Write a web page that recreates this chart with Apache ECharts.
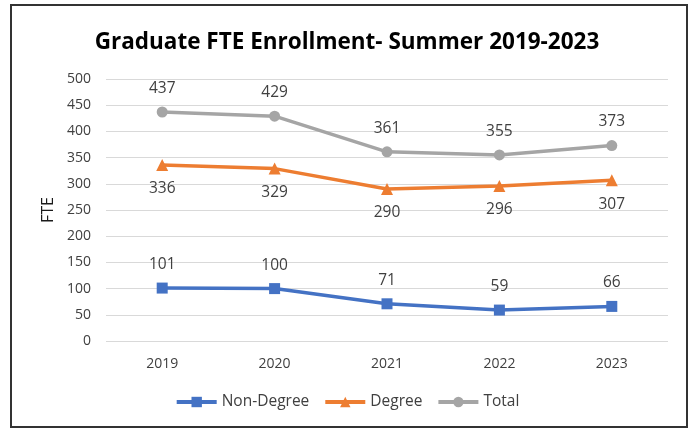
<!DOCTYPE html>
<html><head><meta charset="utf-8">
<script src="https://cdn.jsdelivr.net/npm/echarts@6/dist/echarts.min.js"></script>
<style>html,body{margin:0;padding:0;background:#fff}#c{width:694px;height:432px}
#frame{position:absolute;left:10px;top:4px;width:678px;height:424px;border:2px solid #333;box-sizing:border-box;pointer-events:none}</style>
</head><body><div id="c"></div><div id="frame"></div>
<script>
const categories = ['2019','2020','2021','2022','2023'];
const nonDegree = [101,100,71,59,66];
const degree = [336,329,290,296,307];
const total = [437,429,361,355,373];
const yTicks = [0,50,100,150,200,250,300,350,400,450,500];

const chart = echarts.init(document.getElementById('c'));
const labelStyle = {show:true, fontSize:15.5, color:'#404040', fontFamily:'Open Sans', distance:10};
chart.setOption({
  animation:false,
  title:{text:'Graduate FTE Enrollment- Summer 2019-2023', left:'center', top:26,
    textStyle:{fontSize:22.5, fontWeight:'bold', color:'#000', fontFamily:'Open Sans'}},
  grid:{left:106, right:26, top:79, bottom:91},
  legend:{bottom:17, left:'center', itemWidth:40, itemHeight:13, itemGap:14,
    lineStyle:{width:4},
    textStyle:{fontSize:15.5, color:'#404040', fontFamily:'Open Sans'}},
  xAxis:{type:'category', data:categories, boundaryGap:true,
    axisLine:{show:false}, axisTick:{show:false},
    axisLabel:{fontSize:14, color:'#404040', margin:16, fontFamily:'Open Sans'}},
  yAxis:{type:'value', min:yTicks[0], max:yTicks[yTicks.length-1], interval:50, name:'FTE',
    nameLocation:'middle', nameGap:48, nameTextStyle:{fontSize:16, color:'#1a1a1a', fontFamily:'Open Sans'},
    axisLine:{show:false}, axisTick:{show:false},
    axisLabel:{fontSize:14, color:'#404040', margin:15, fontFamily:'Open Sans'},
    splitLine:{lineStyle:{color:'#d9d9d9', width:1}}},
  series:[
    {name:'Non-Degree', type:'line', data:nonDegree, symbol:'rect', symbolSize:11,
      lineStyle:{color:'#4472C4', width:3.5}, itemStyle:{color:'#4472C4'},
      label:Object.assign({position:'top'}, labelStyle)},
    {name:'Degree', type:'line', data:degree, symbol:'triangle', symbolSize:12,
      lineStyle:{color:'#ED7D31', width:3.5}, itemStyle:{color:'#ED7D31'},
      label:Object.assign({position:'bottom'}, labelStyle)},
    {name:'Total', type:'line', data:total, symbol:'circle', symbolSize:11,
      lineStyle:{color:'#A5A5A5', width:3.5}, itemStyle:{color:'#A5A5A5'},
      label:Object.assign({position:'top'}, labelStyle)}
  ]
});
</script></body></html>
